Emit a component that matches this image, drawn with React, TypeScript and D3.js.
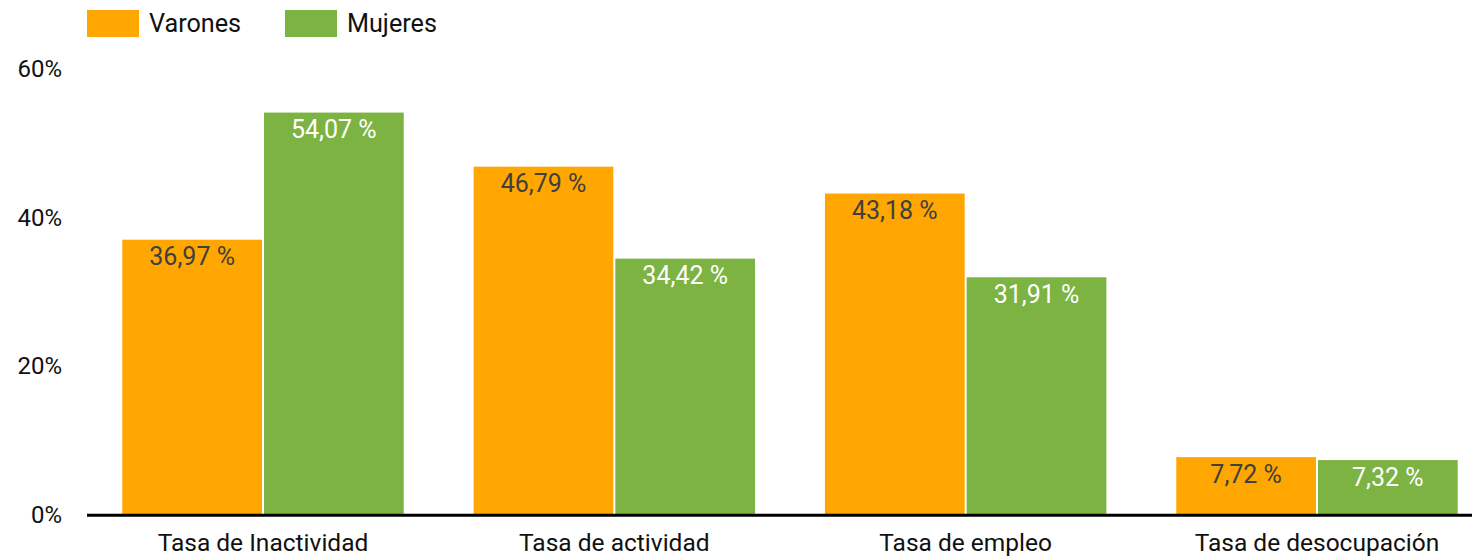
import React from "react";
import * as d3 from "d3";

const categories = ["Tasa de Inactividad", "Tasa de actividad", "Tasa de empleo", "Tasa de desocupación"];
const seriesNames = ["Varones", "Mujeres"];
const varones = [36.97, 46.79, 43.18, 7.72];
const mujeres = [54.07, 34.42, 31.91, 7.32];
const yTicks = [0, 20, 40, 60];
const colors = ["#FFA600", "#7CB342"];
const labelColors = ["#404040", "#FFFFFF"];

const W = 1472;
const H = 557;
const FONT = "Roboto, 'Noto Sans', sans-serif";

export default function App() {
  const y = d3.scaleLinear().domain([0, 60]).range([514.5, 68.5]);
  const x0 = d3.scaleBand<string>().domain(categories).range([87.33, 1492.67]).paddingInner(0.199).paddingOuter(0.0995);
  const x1 = d3.scaleBand<string>().domain(seriesNames).range([0, x0.bandwidth()]).paddingInner(0.0141);
  const values = [varones, mujeres];
  const fmt = (v: number) => v.toFixed(2).replace(".", ",") + " %";

  return (
    <svg width={W} height={H} style={{ position: "absolute", left: 0, top: 0, background: "#fff" }} fontFamily={FONT}>
      {/* legend */}
      {seriesNames.map((s, i) => {
        const lx = i === 0 ? 87 : 285;
        return (
          <g key={s}>
            <rect x={lx} y={10} width={52} height={27} fill={colors[i]} />
            <text x={lx + 62} y={32} fontSize={25.2} fill="#111">{s}</text>
          </g>
        );
      })}
      {/* y ticks */}
      {yTicks.map((t) => (
        <text key={t} x={62} y={y(t)} dy="0.35em" textAnchor="end" fontSize={24} fill="#111">
          {t}%
        </text>
      ))}
      {/* bars */}
      {categories.map((c, ci) => (
        <g key={c} transform={`translate(${x0(c)},0)`}>
          {seriesNames.map((s, si) => {
            const v = values[si][ci];
            const bx = x1(s)!;
            const bw = x1.bandwidth();
            return (
              <g key={s}>
                <rect x={bx} y={y(v)} width={bw} height={y(0) - y(v)} fill={colors[si]} />
                <text x={bx + bw / 2} y={y(v) + 25.8} textAnchor="middle" fontSize={25} fill={labelColors[si]}>
                  {fmt(v)}
                </text>
              </g>
            );
          })}
          <text x={x0.bandwidth() / 2} y={551} textAnchor="middle" fontSize={24.5} fill="#111">
            {c}
          </text>
        </g>
      ))}
      {/* baseline axis */}
      <line x1={87} x2={W} y1={y(0) + 0.8} y2={y(0) + 0.8} stroke="#000" strokeWidth={3} />
    </svg>
  );
}
